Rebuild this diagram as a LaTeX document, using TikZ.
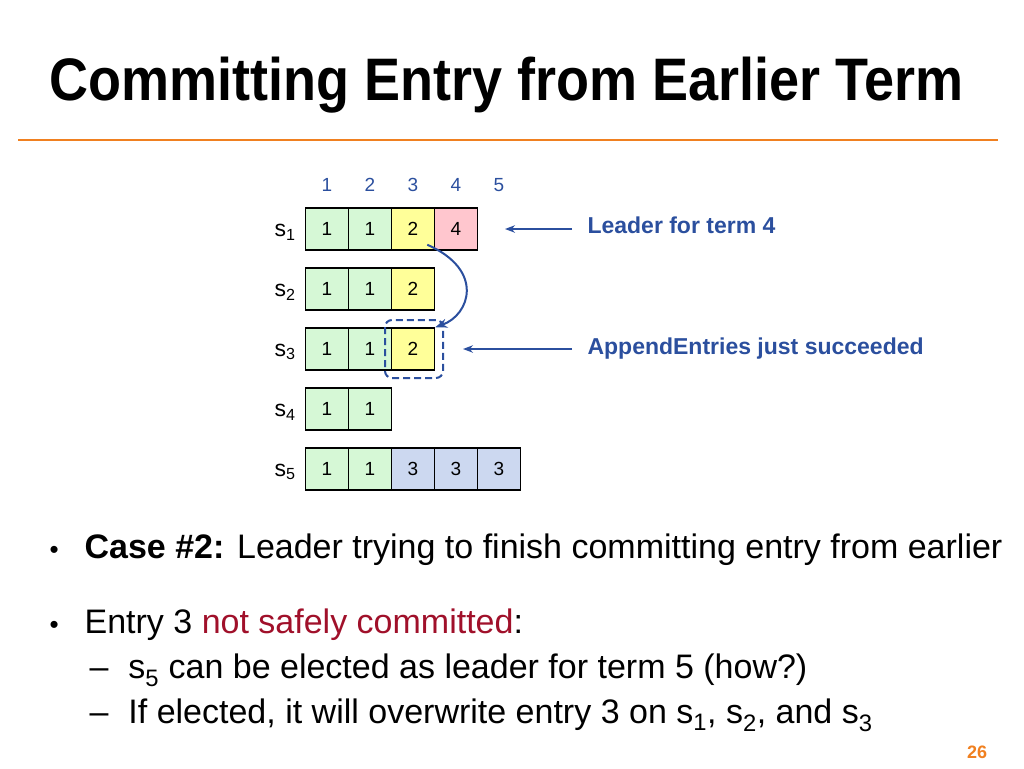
\documentclass[tikz,border=0pt]{standalone}
\usepackage{fontspec}
\setmainfont{Liberation Sans}
\usetikzlibrary{positioning, arrows.meta}
\definecolor{termone}{HTML}{D6F8D6}
\definecolor{termtwo}{HTML}{FFFF99}
\definecolor{termthree}{HTML}{CCD8F0}
\definecolor{termfour}{HTML}{FFC6CE}
\definecolor{raftblue}{HTML}{2B4F9E}
\definecolor{raftorange}{HTML}{F08020}
\definecolor{raftred}{HTML}{A0102A}
\tikzset{
  entry/.style={draw=black, line width=1.5pt, minimum width=43pt, minimum height=42pt, inner sep=0pt, font=\fontsize{19}{19}\selectfont},
  idx/.style={text=raftblue, font=\fontsize{19}{19}\selectfont},
  srv/.style={font=\fontsize{23}{23}\selectfont},
  note/.style={text=raftblue, font=\bfseries\fontsize{23}{23}\selectfont, anchor=west},
  body/.style={anchor=west, font=\fontsize{34}{34}\selectfont}
}
\begin{document}
\begin{tikzpicture}[x=1pt, y=-1pt]
    \useasboundingbox (0,0) rectangle (1024,768);
    \node[anchor=west, font=\bfseries\fontsize{60}{60}\selectfont, xscale=0.9] (title) at (46,85) {Committing Entry from Earlier Term};
    \draw[raftorange, line width=2.5pt] (18,140) -- (998,140);
    % index numbers
    \foreach \i in {1,...,5}
      \node[idx] (n\i) at (284+43*\i,185) {\i};
    % logs
    \foreach \r/\y/\log in {1/229/{1/termone,1/termone,2/termtwo,4/termfour},
                            2/289/{1/termone,1/termone,2/termtwo},
                            3/349/{1/termone,1/termone,2/termtwo},
                            4/409/{1/termone,1/termone},
                            5/469/{1/termone,1/termone,3/termthree,3/termthree,3/termthree}} {
      \node[srv] (s\r) at (285,\y+3) {s\textsubscript{\r}};
      \foreach \t/\c [count=\k] in \log
        \node[entry, fill=\c] (e\r\k) at (284+43*\k,\y) {\t};
    }
    \draw[raftblue, line width=2pt, dash pattern=on 7pt off 4pt, rounded corners=7pt] (385,320) rectangle (443,378);
    \draw[raftblue, line width=2pt, -{Stealth[length=12pt]}] (e13.south east) ++(-8,-6)
      .. controls (485,270) and (470,315) .. (e33.north east);
    \node[note] (lead) at (584,225) {Leader for term 4};
    \node[note] (succ) at (584,349) {AppendEntries just succeeded};
    \draw[raftblue, line width=1.5pt, -{Stealth[length=10pt]}] (lead.west |- e14.east) ++(-12,0) coordinate (a1) -- (505,229);
    \draw[raftblue, line width=1.5pt, -{Stealth[length=10pt]}] (succ.west) ++(-12,0) coordinate (a2) -- (463,349);
    % text
    \node[body] (b1) at (46,550) {\fontsize{26}{26}\selectfont\textbullet\hspace{26pt}\fontsize{34}{34}\selectfont\textbf{Case \#2:} Leader trying to finish committing entry from earlier};
    \node[body] (b2) at (46,625) {\fontsize{26}{26}\selectfont\textbullet\hspace{26pt}\fontsize{34}{34}\selectfont Entry 3 \textcolor{raftred}{not safely committed}:};
    \node[body] (d1) at (86,670) {--\hspace{20pt}s\textsubscript{5} can be elected as leader for term 5 (how?)};
    \node[body] (d2) at (86,715) {--\hspace{20pt}If elected, it will overwrite entry 3 on s\textsubscript{1}, s\textsubscript{2}, and s\textsubscript{3}};
    \node[text=raftorange, font=\bfseries\fontsize{18}{18}\selectfont] (pg) at (977,752) {26};
\end{tikzpicture}
\end{document}
